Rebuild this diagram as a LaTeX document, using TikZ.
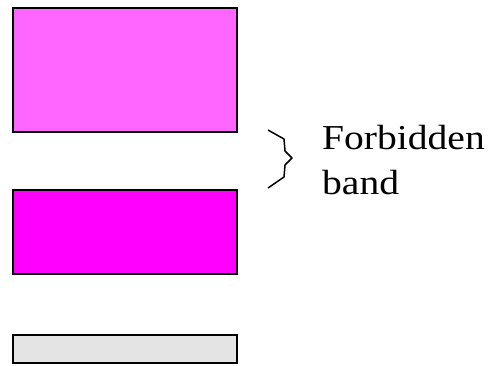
\documentclass[tikz,border=0pt]{standalone}
\usepackage{fontspec}
\setmainfont{Liberation Serif}[FakeStretch=1.13]
\begin{document}
\begin{tikzpicture}[x=1pt,y=-1pt,
  band/.style={draw=black,line width=2pt,minimum width=224pt,inner sep=0pt,anchor=north west},
  lbl/.style={font=\fontsize{35}{45}\selectfont,inner sep=0pt,anchor=base west,align=left}]
\useasboundingbox (0,0) rectangle (492,365);
\node[band,fill={rgb,255:red,255;green,102;blue,255},minimum height=124pt] (upper) at (12,7) {};
\node[band,fill={rgb,255:red,255;green,0;blue,255},minimum height=84pt] (middle) at (12,188.5) {};
\node[band,fill={rgb,255:red,228;green,228;blue,228},minimum height=28pt] (lower) at (12,334) {};
\draw[line width=1.5pt,line join=round] (268,130) -- (284,139) -- (285,151) -- (292,158) -- (285,165) -- (284,177) -- (268,188);
\node[lbl] (text) at (322,194) {Forbidden\\band};
\end{tikzpicture}
\end{document}
